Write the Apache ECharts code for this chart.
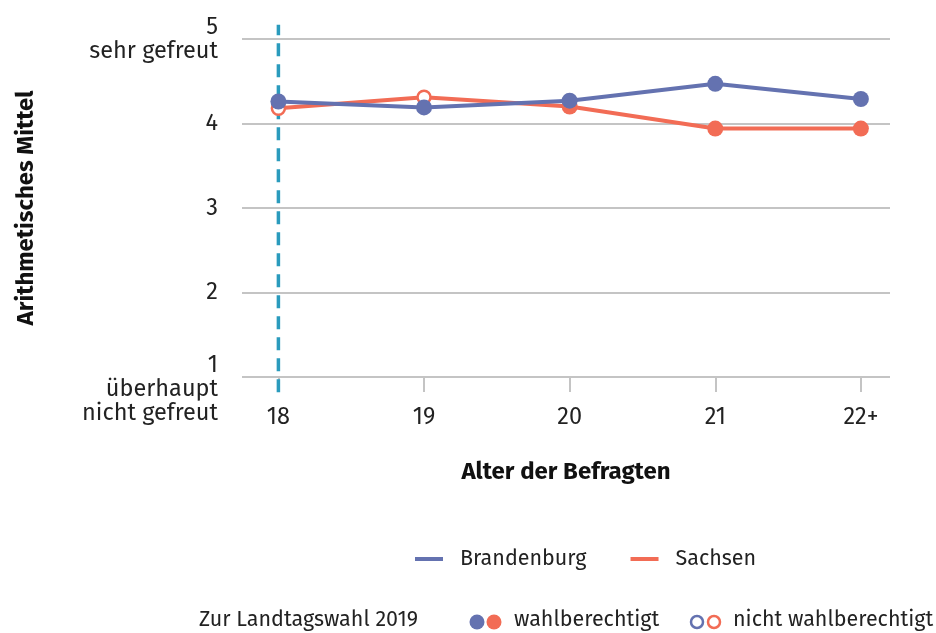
<!DOCTYPE html>
<html>
<head>
<meta charset="utf-8">
<script src="https://cdn.jsdelivr.net/npm/echarts@6/dist/echarts.min.js"></script>
<style>
  html, body { margin: 0; padding: 0; background: #fff; }
  #chart { width: 936px; height: 633px; }
</style>
</head>
<body>
<div id="chart"></div>
<script>
// Alter der Befragten
var categories = ['18', '19', '20', '21', '22+'];
// Arithmetisches Mittel je Altersgruppe
var brandenburg = [4.26, 4.19, 4.27, 4.47, 4.29];
var sachsen = [4.18, 4.31, 4.20, 3.94, 3.94];
// wahlberechtigt zur Landtagswahl 2019?
var brandenburgEligible = [true, true, true, true, true];
var sachsenEligible = [false, false, true, true, true];
// y-Achse
var yTicks = [1, 2, 3, 4, 5];
var yTickLabels = {
    1: '\n1\nüberhaupt\nnicht gefreut',
    2: '2',
    3: '3',
    4: '4',
    5: '5\nsehr gefreut'
};
// gestrichelte Linie bei 18 (Wahlalter)
var cutoffX = 0;
var cutoffRange = [0.82, 5.17];

var BLUE = '#6472b0';
var RED = '#f26c55';
var TEAL = '#2a9bbd';
var GRID = '#c4c4c4';
var FONT = "'Fira Sans', 'Noto Sans', sans-serif";

function buildData(values, eligible, color){
    return values.map(function(v, i){
        if (eligible[i]) return [i, v];
        return {
            value: [i, v],
            symbolSize: 13,
            itemStyle: { color: '#fff', borderColor: color, borderWidth: 2.5 }
        };
    });
}

var catIdx = categories.map(function(c, i){ return i; });

var option = {
    animation: false,
    textStyle: { fontFamily: FONT },
    grid: { left: 242, right: 46, top: 39, bottom: 256 },
    legend: {
        data: ['Brandenburg', 'Sachsen'],
        left: 410,
        top: 543,
        icon: 'rect',
        itemWidth: 28,
        itemHeight: 4,
        itemGap: 44,
        textStyle: { fontSize: 21.5, color: '#222', fontFamily: FONT, padding: [0, 0, 0, 12] }
    },
    xAxis: {
        type: 'value',
        min: -0.25,
        max: 4.2,
        name: 'Alter der Befragten',
        nameLocation: 'middle',
        nameGap: 83,
        nameTextStyle: { fontSize: 24, fontWeight: 'bold', color: '#111', fontFamily: FONT },
        axisLine: { show: false },
        splitLine: { show: false },
        axisTick: {
            show: true,
            customValues: catIdx,
            length: 15,
            lineStyle: { color: GRID, width: 2 }
        },
        axisLabel: {
            customValues: catIdx,
            margin: 28,
            fontSize: 23.5,
            color: '#222',
            fontFamily: FONT,
            formatter: function(v){ return categories[Math.round(v)]; }
        }
    },
    yAxis: {
        type: 'value',
        min: 1,
        max: 5,
        interval: 1,
        name: 'Arithmetisches Mittel',
        nameLocation: 'middle',
        nameGap: 204,
        nameTextStyle: { fontSize: 24, fontWeight: 'bold', color: '#111', fontFamily: FONT },
        axisLine: { show: false },
        axisTick: { show: false },
        splitLine: { lineStyle: { color: GRID, width: 2 } },
        axisLabel: {
            margin: 24,
            fontSize: 23.5,
            lineHeight: 24,
            color: '#222',
            fontFamily: FONT,
            align: 'right',
            formatter: function(v){ return yTickLabels[v] || String(v); }
        }
    },
    series: [
        {
            name: 'Wahlalter',
            type: 'line',
            data: [[cutoffX, cutoffRange[0]], [cutoffX, cutoffRange[1]]],
            clip: false,
            showSymbol: false,
            symbol: 'none',
            silent: true,
            z: 1,
            lineStyle: { color: TEAL, width: 3.5, type: [13, 8] }
        },
        {
            name: 'Sachsen',
            type: 'line',
            data: buildData(sachsen, sachsenEligible, RED),
            symbol: 'circle',
            symbolSize: 16,
            z: 2,
            color: RED,
            lineStyle: { color: RED, width: 4 },
            itemStyle: { color: RED }
        },
        {
            name: 'Brandenburg',
            type: 'line',
            data: buildData(brandenburg, brandenburgEligible, BLUE),
            symbol: 'circle',
            symbolSize: 16,
            z: 3,
            color: BLUE,
            lineStyle: { color: BLUE, width: 4 },
            itemStyle: { color: BLUE }
        }
    ],
    graphic: [
        { type: 'text', left: 199, top: 609, style: { text: 'Zur Landtagswahl 2019', fontSize: 21.5, fill: '#222', fontFamily: FONT } },
        { type: 'circle', shape: { cx: 477, cy: 622, r: 7.5 }, style: { fill: BLUE } },
        { type: 'circle', shape: { cx: 494, cy: 622, r: 7.5 }, style: { fill: RED } },
        { type: 'text', left: 514, top: 609, style: { text: 'wahlberechtigt', fontSize: 21.5, fill: '#222', fontFamily: FONT } },
        { type: 'circle', shape: { cx: 697, cy: 622, r: 6 }, style: { fill: '#fff', stroke: BLUE, lineWidth: 2.5 } },
        { type: 'circle', shape: { cx: 714, cy: 622, r: 6 }, style: { fill: '#fff', stroke: RED, lineWidth: 2.5 } },
        { type: 'text', left: 733, top: 609, style: { text: 'nicht wahlberechtigt', fontSize: 21.5, fill: '#222', fontFamily: FONT } }
    ]
};

var myChart = echarts.init(document.getElementById('chart'));
myChart.setOption(option);
</script>
</body>
</html>
